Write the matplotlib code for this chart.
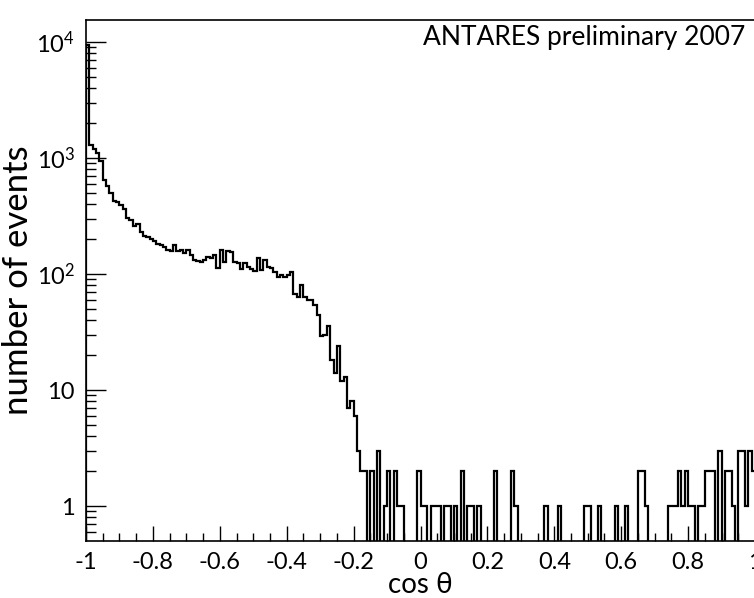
import numpy as np
import matplotlib.pyplot as plt
from matplotlib.ticker import FixedLocator, FixedFormatter

plt.rcParams['font.family'] = ['Lato', 'DejaVu Sans']
plt.rcParams['mathtext.fontset'] = 'custom'
plt.rcParams['mathtext.rm'] = 'Lato'
plt.rcParams['mathtext.it'] = 'Lato'

# 200 bins of width 0.01 between cos(theta) = -1 and 1
steep = [9500, 1300, 1200, 1100, 950, 650, 580, 500, 430, 415,
         393, 362, 302, 292, 258, 272, 232, 212, 207, 200,
         194, 182, 177, 172, 161, 158, 177, 158, 160, 152,
         161, 146, 132, 130, 128, 132, 141, 138, 145, 112]
plateau = [161, 128, 158, 154, 128, 124, 110, 124, 116, 110,
           106, 138, 108, 132, 116, 112, 105, 95, 98, 95,
           98, 104, 68, 64, 80, 64, 60, 60, 54, 44,
           29, 30, 36, 18, 14, 24, 12, 13, 7, 8]
tail = [6, 3, 2, 2, 0, 2, 0, 3, 0, 1,
        2, 0, 2, 1, 1, 0, 0, 0, 0, 2,
        1, 1, 0, 1, 1, 1, 0, 1, 1, 0,
        1, 0, 2, 0, 1, 1, 0, 1, 0, 0,
        0, 0, 2, 0, 0, 0, 0, 2, 1, 0,
        0, 0, 0, 0, 0, 0, 0, 1, 0, 0,
        0, 1, 0, 0, 0, 0, 0, 0, 0, 1,
        1, 0, 0, 1, 0, 0, 0, 0, 1, 0,
        0, 1, 0, 0, 0, 2, 2, 1, 0, 0,
        0, 0, 0, 0, 1, 1, 1, 2, 1, 2,
        1, 1, 0, 1, 1, 2, 2, 2, 0, 3,
        0, 2, 2, 1, 0, 3, 3, 1, 3, 2]

xticks = [-1, -0.8, -0.6, -0.4, -0.2, 0, 0.2, 0.4, 0.6, 0.8, 1]
xlabels = ['-1', '-0.8', '-0.6', '-0.4', '-0.2', '0', '0.2', '0.4', '0.6', '0.8', '1']
yticks = [1, 10, 100, 1000, 10000]
ylabels = ['1', '10', '$10^{2}$', '$10^{3}$', '$10^{4}$']

counts = np.array(steep + plateau + tail, dtype=float)
edges = np.linspace(-1, 1, len(counts) + 1)

fig = plt.figure(figsize=(7.54, 5.98), dpi=100)
# frame runs a pixel past the right edge of the picture, as in the original
ax = fig.add_axes([86 / 754, 57 / 598, 669 / 754, 521 / 598])

# empty bins drawn below the frame so the line drops to the axis
shown = np.where(counts > 0, counts, 0.05)
ax.stairs(shown, edges, color='black', linewidth=1.6, baseline=0.05)

ax.set_yscale('log')
ax.set_xlim(-1, 1)
ax.set_ylim(0.5, 1.55e4)

ax.xaxis.set_major_locator(FixedLocator(xticks))
ax.xaxis.set_major_formatter(FixedFormatter(xlabels))
ax.xaxis.set_minor_locator(FixedLocator(np.arange(-1, 1.001, 0.05)))
ax.yaxis.set_major_locator(FixedLocator(yticks))
ax.yaxis.set_major_formatter(FixedFormatter(ylabels))
yminor = [m * 10.0 ** e for e in range(-1, 5) for m in range(2, 10) if 0.5 < m * 10.0 ** e < 1.55e4]
ax.yaxis.set_minor_locator(FixedLocator(yminor))

ax.tick_params(axis='both', which='both', direction='in', top=False, right=False,
               labelsize=17, width=1.0)
ax.tick_params(axis='y', which='major', length=14.4, pad=8)
ax.tick_params(axis='y', which='minor', length=7.2)
ax.tick_params(axis='x', which='major', length=11, pad=8)
ax.tick_params(axis='x', which='minor', length=5.5)
for s in ax.spines.values():
    s.set_linewidth(1.2)

ax.set_xlabel('cos θ', fontsize=20, va='baseline')
ax.xaxis.set_label_coords(0.5, -0.1)
ax.set_ylabel('number of events', fontsize=25, va='center')
ax.yaxis.set_label_coords(-68 / 669, 0.5)
ax.text(0.985, 0.99, 'ANTARES preliminary 2007', transform=ax.transAxes,
        ha='right', va='top', fontsize=19)

fig.savefig('out.png', dpi=100)
